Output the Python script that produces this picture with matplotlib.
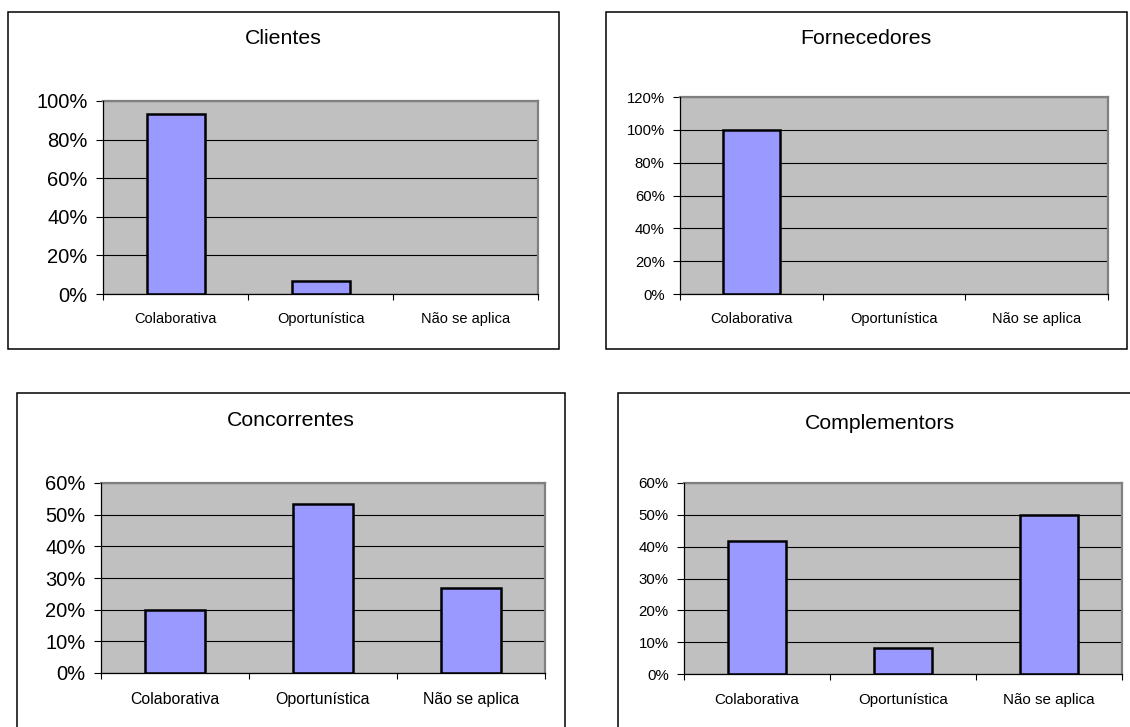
import matplotlib
matplotlib.use("Agg")
import matplotlib.pyplot as plt
from matplotlib.patches import Rectangle
from matplotlib.ticker import FixedLocator, FuncFormatter

plt.rcParams['font.family'] = ['Liberation Sans', 'DejaVu Sans']

categories = ["Colaborativa", "Oportunística", "Não se aplica"]
titles = ["Clientes", "Fornecedores", "Concorrentes", "Complementors"]
clientes = [0.933, 0.067, 0.0]
fornecedores = [1.0, 0.0, 0.0]
concorrentes = [0.20, 0.533, 0.267]
complementors = [0.417, 0.083, 0.50]
series = [clientes, fornecedores, concorrentes, complementors]
ymax = [1.0, 1.2, 0.6, 0.6]
ystep = [0.2, 0.2, 0.1, 0.1]

W, H = 1130, 727
fig = plt.figure(figsize=(W / 100, H / 100), dpi=100)

# layout in pixels: (plot left, top, right, bottom), (box l, t, r, b), title center (x, y)
plots = [(103, 101, 538, 294), (680, 97, 1108, 294), (101, 483, 545, 673), (684, 483, 1122, 674)]
boxes = [(8, 12, 559, 349), (606, 12, 1127, 349), (17, 393, 565, 740), (618, 393, 1145, 740)]
title_pos = [(283, 38), (866, 38), (291, 420), (880, 423)]
ytick_fs = [14.5, 10.7, 14.5, 10.8]
xtick_fs = [10.5, 10.5, 11.4, 10.9]
xlab_pad = [13, 13, 14, 14]

def px2fig(x, y):
    return x / W, 1 - y / H

for i in range(4):
    bl, bt, br, bb = boxes[i]
    fig.patches.append(Rectangle((bl / W, 1 - bb / H), (br - bl) / W, (bb - bt) / H,
                                 transform=fig.transFigure, fill=False,
                                 edgecolor='black', linewidth=1.1, clip_on=False))
    l, t, r, b = plots[i]
    ax = fig.add_axes([l / W, 1 - b / H, (r - l) / W, (b - t) / H])
    ax.set_facecolor('#C0C0C0')
    ax.set_axisbelow(True)
    vals = series[i]
    lws = [1.8 if v > 0 else 0 for v in vals]
    ax.bar(range(3), vals, width=0.4, color='#9999FF', edgecolor='black',
           linewidth=lws, zorder=2)
    ax.set_xlim(-0.5, 2.5)
    ax.set_ylim(0, ymax[i])
    n = int(round(ymax[i] / ystep[i]))
    yt = [k * ystep[i] for k in range(n + 1)]
    ax.set_yticks(yt)
    ax.yaxis.set_major_formatter(FuncFormatter(lambda v, p: f"{v * 100:.0f}%"))
    ax.tick_params(axis='y', direction='out', length=5, width=0.8, pad=6,
                   labelsize=ytick_fs[i], colors='black')
    ax.xaxis.set_major_locator(FixedLocator([-0.5, 0.5, 1.5, 2.5]))
    ax.xaxis.set_minor_locator(FixedLocator([0, 1, 2]))
    ax.set_xticklabels([])
    ax.set_xticklabels(categories, minor=True)
    ax.tick_params(axis='x', which='major', direction='out', length=4, width=0.8)
    ax.tick_params(axis='x', which='minor', length=0, pad=xlab_pad[i], labelsize=xtick_fs[i])
    ax.yaxis.grid(True, color='black', linewidth=0.8)
    for s in ['top', 'right']:
        ax.spines[s].set_color('#808080')
        ax.spines[s].set_linewidth(1.6)
    for s in ['left', 'bottom']:
        ax.spines[s].set_color('black')
        ax.spines[s].set_linewidth(0.9)
        ax.spines[s].set_zorder(3)
    tx, ty = title_pos[i]
    fx, fy = px2fig(tx, ty)
    fig.text(fx, fy, titles[i], ha='center', va='center', fontsize=15.3)

fig.savefig("out.png", dpi=100, facecolor='white')
